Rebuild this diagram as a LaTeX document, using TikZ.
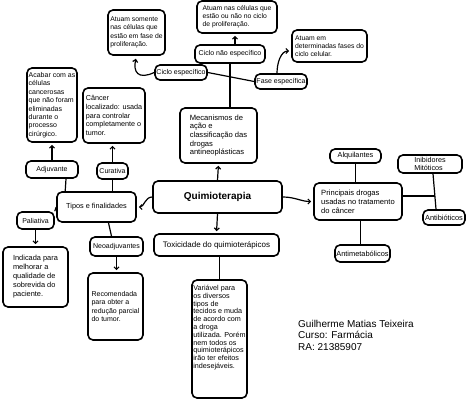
\documentclass[tikz,border=0pt]{standalone}
\usepackage{fontspec}
\setmainfont{Liberation Sans}
\usetikzlibrary{arrows.meta,calc}
\newcommand\fs[2]{\fontsize{#1}{#2}\selectfont}
\newcommand\sigf{\fontsize{10}{11.5}\selectfont}
\tikzset{
  bx/.style={draw, line width=1.6pt, rounded corners=5pt, inner sep=0pt, font=\fs{7}{8.4}, align=left},
  ar/.style={-{Straight Barb[length=2.5pt,width=5pt]}, line width=1.2pt, shorten >=2pt},
  ln/.style={line width=1.2pt}
}
\begin{document}
\begin{tikzpicture}[x=1pt,y=-1pt]
\useasboundingbox[fill=white] (0,0) rectangle (474,401);
% top cluster
\node[bx, font=\fs{6.8}{8.4}, minimum width=57pt, minimum height=45pt] (b1) at (136.5,32.5) {Atuam somente\\nas células que\\estão em fase de\\proliferação.};
\node[bx, font=\fs{6.8}{8.2}, minimum width=80pt, minimum height=32pt] (b2) at (237,17) {Atuam nas células que\\estão ou não no ciclo\\de proliferação.};
\node[bx, minimum width=70pt, minimum height=18pt] (cne) at (230,54) {Ciclo não específico};
\node[bx, minimum width=52pt, minimum height=15pt] (ce) at (181,72.5) {Ciclo específico};
\node[bx, minimum width=52pt, minimum height=15pt] (fe) at (281,81.5) {Fase específica};
\node[bx, font=\fs{6.8}{8.2}, minimum width=75pt, minimum height=32pt] (b6) at (329.5,46) {Atuam em\\determinadas fases do\\ciclo celular.};
% left cluster
\node[bx, minimum width=50pt, minimum height=74pt] (b7) at (52,105) {Acabar com as\\células\\cancerosas\\que não foram\\eliminadas\\durante o\\processo\\cirúrgico.};
\node[bx, font=\fs{7.2}{8.6}, minimum width=62pt, minimum height=55pt] (b8) at (114,115.5) {Câncer\\localizado: usada\\para controlar\\completamente o\\tumor.};
\node[bx, minimum width=52pt, minimum height=17pt] (adj) at (52,169.5) {Adjuvante};
\node[bx, minimum width=31pt, minimum height=16pt] (cur) at (112.5,171) {Curativa};
\node[bx, font=\fs{7.3}{9}, minimum width=79pt, minimum height=30pt] (tip) at (96.5,207) {Tipos e finalidades};
\node[bx, minimum width=37pt, minimum height=17pt] (pal) at (35.5,220.5) {Paliativa};
\node[bx, font=\fs{7.4}{9}, minimum width=65pt, minimum height=60pt] (b15) at (35.5,277) {Indicada para\\melhorar a\\qualidade de\\sobrevida do\\paciente.};
\node[bx, minimum width=53pt, minimum height=19pt] (neo) at (116.5,246.5) {Neoadjuvantes};
\node[bx, minimum width=55pt, minimum height=67pt] (b17) at (115.5,306.5) {Recomendada\\para obter a\\redução parcial\\do tumor.};
% center
\node[bx, font=\fs{7.6}{8.6}, minimum width=77pt, minimum height=55pt] (mec) at (218.5,135.5) {Mecanismos de\\ação e\\classificação das\\drogas\\antineoplásticas};
\node[bx, minimum width=129pt, minimum height=32pt, font=\fontsize{10}{12}\selectfont\bfseries] (qui) at (217.5,197) {Quimioterapia};
\node[bx, minimum width=125pt, minimum height=22pt, font=\fs{8}{10}] (tox) at (216.5,245) {Toxicidade do quimioterápicos};
\node[bx, minimum width=55pt, minimum height=118pt] (var) at (219.5,339) {\vbox to 112pt{\vspace{2pt}\hbox{\fs{7.2}{7.8}\begin{tabular}{@{}l@{}}Variável para\\os diversos\\tipos de\\tecidos e muda\\de acordo com\\a droga\\utilizada. Porém\\nem todos os\\quimioterápicos\\irão ter efeitos\\indesejáveis.\end{tabular}}\vfill}};
% right cluster
\node[bx, font=\fs{7.6}{8.8}, minimum width=88pt, minimum height=37pt] (pri) at (358,201.5) {Principais drogas\\usadas no tratamento\\do câncer};
\node[bx, font=\fs{7.3}{8.6}, minimum width=51pt, minimum height=14pt] (alq) at (355.5,156) {Alquilantes};
\node[bx, font=\fs{7.2}{8.6}, minimum width=64pt, minimum height=18pt] (ini) at (430,164) {Inibidores\\Mitóticos};
\node[bx, font=\fs{7.4}{8.6}, minimum width=42pt, minimum height=15pt] (ant) at (444,217.5) {Antibióticos};
\node[bx, font=\fs{7.4}{8.6}, minimum width=55pt, minimum height=17pt] (antm) at (362.5,253.5) {Antimetabólicos};
\node[anchor=north west, font=\sigf, align=left, inner sep=0pt] (sig) at (298,320) {Guilherme Matias Teixeira\\Curso: Farmácia\\RA: 21385907};
\coordinate (j) at (435,196);
\coordinate (am) at ($(antm.north)+(-2,0)$);
\coordinate (ib) at ($(ini.south)+(3,0)$);
\coordinate (at) at ($(ant.north)+(-8,0)$);
% connectors
\draw[ar] (qui.north) -- (mec.south);
\draw[ln] (cne.south) -- (cne.south |- mec.north);
\draw[ar] ($(cne.north)+(5,0)$) -- ($(b2.south)+(-2,0)$);
\draw[ln] (ce.east) -- (fe.west);
\draw[ar, shorten >=3pt] (ce.west) .. controls (138,80) and (133,72) .. (b1.south);
\draw[ar] ($(fe.north)+(-4,0)$) to[out=90,in=180] ($(b6.west)+(0,5)$);
\draw[ar] (qui.west) to[out=180,in=0] (tip.east);
\draw[ar] (qui.east) to[out=0,in=180] (pri.west);
\draw[ar] (qui.south) -- (tox.north);
\draw[ln] (var.north) -- (var.north |- tox.south);
\draw[ln] ($(tip.north west)+(9,0)$) -- ($(adj.south)+(14,0)$);
\draw[ln] (cur.south) -- (cur.south |- tip.north);
\draw[ln] (pal.north east) -- (tip.west);
\draw[ln] ($(tip.south)+(12,0)$) -- ($(neo.north)+(-5,0)$);
\draw[ar] (adj.north) -- (b7.south);
\draw[ar] (cur.north) -- (cur.north |- b8.south);
\draw[ar] (pal.south) -- (b15.north);
\draw[ar] (neo.south) -- (neo.south |- b17.north);
\draw[ln] (alq.south) -- (alq.south |- pri.north);
\draw[ln] (am) -- (am |- pri.south);
\draw[ln] (pri.east |- j) -- (j);
\draw[ln] (ib) -- (at);
\end{tikzpicture}
\end{document}
